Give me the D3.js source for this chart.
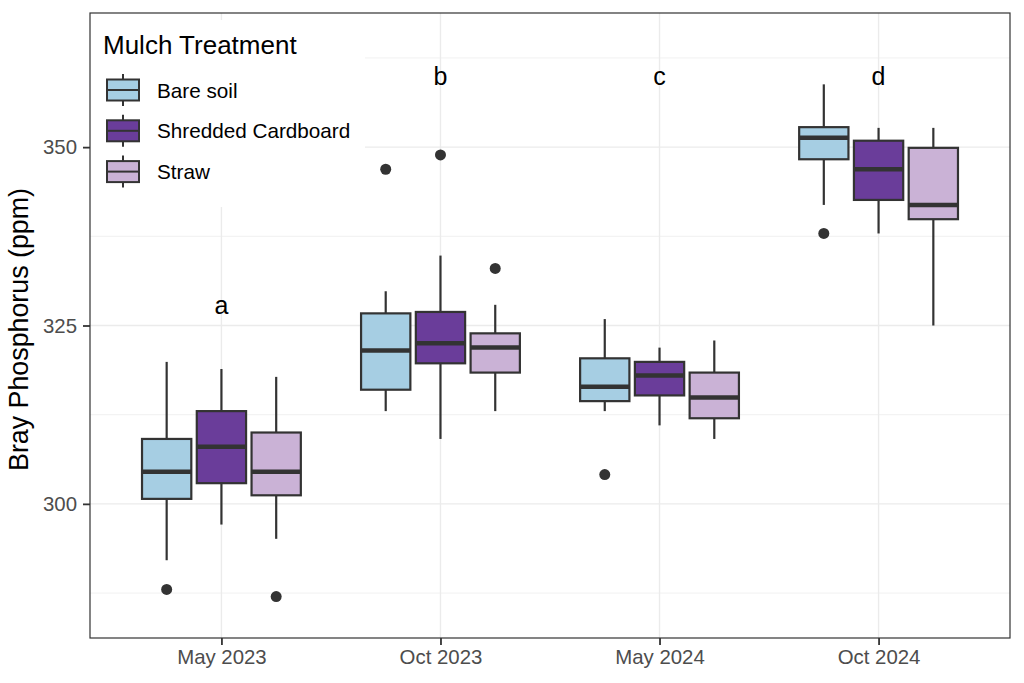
<!DOCTYPE html>
<html>
<head>
<meta charset="utf-8">
<script src="https://cdn.jsdelivr.net/npm/d3@7"></script>
<style>
  body { margin: 0; background: #fff; }
  text { font-family: "Liberation Sans", Arial, sans-serif; }
</style>
</head>
<body>
<div id="chart"></div>
<script>
// sampling dates and mulch treatments
const periods = ["May 2023", "Oct 2023", "May 2024", "Oct 2024"];
const treatments = ["Bare soil", "Shredded Cardboard", "Straw"];
const fills = ["#a6cee3", "#6a3d9a", "#cab2d6"];

// [lower whisker, q1, median, q3, upper whisker] per period
const bareSoil  = [[292.1, 300.7, 304.5, 309.1, 319.9], [313.0, 316.0, 321.5, 326.7, 329.8], [313.0, 314.4, 316.4, 320.4, 325.9], [341.9, 348.3, 351.3, 352.8, 358.8]];
const cardboard = [[297.1, 302.9, 308.0, 313.0, 318.9], [309.1, 319.7, 322.5, 326.9, 334.8], [311.0, 315.2, 318.0, 319.9, 321.9], [337.9, 342.6, 346.9, 350.9, 352.7]];
const straw     = [[295.1, 301.2, 304.5, 310.0, 317.8], [313.0, 318.4, 321.9, 323.9, 327.9], [309.1, 312.0, 314.9, 318.4, 322.9], [325.0, 339.9, 341.9, 349.9, 352.7]];

// outliers: [period, treatment, value]
const outliers = [
  ["May 2023", "Bare soil", 288.0],
  ["May 2023", "Straw", 287.0],
  ["Oct 2023", "Bare soil", 346.9],
  ["Oct 2023", "Shredded Cardboard", 348.9],
  ["Oct 2023", "Straw", 333.0],
  ["May 2024", "Bare soil", 304.1],
  ["Oct 2024", "Bare soil", 337.9]
];

// significance letters
const letters = ["a", "b", "c", "d"];
const letterValues = [326.6, 358.7, 358.7, 358.7];

const yTicks = [300, 325, 350];
const yMinor = [287.5, 312.5, 337.5, 362.5];

const width = 1024, height = 683;
const margin = { top: 13, right: 14, bottom: 45, left: 90 };

const seriesByTreatment = { "Bare soil": bareSoil, "Shredded Cardboard": cardboard, "Straw": straw };
const boxes = [];
periods.forEach((p, i) => {
  treatments.forEach((t, j) => {
    const s = seriesByTreatment[t][i];
    boxes.push({ period: p, treatment: t, fill: fills[j], lo: s[0], q1: s[1], med: s[2], q3: s[3], hi: s[4] });
  });
});

const svg = d3.select("#chart")
  .append("svg")
  .attr("width", width)
  .attr("height", height);

const x = d3.scalePoint()
  .domain(periods)
  .range([margin.left, width - margin.right])
  .padding(0.6);

const y = d3.scaleLinear()
  .domain([281.2, 368.8])
  .range([height - margin.bottom, margin.top]);

const dodge = x.step() * 0.75;
const xSub = d3.scaleBand()
  .domain(treatments)
  .range([-dodge / 2, dodge / 2]);
const boxW = xSub.bandwidth() * 0.9;
const colour = d3.scaleOrdinal().domain(treatments).range(fills);

const pLeft = margin.left, pRight = width - margin.right;
const pTop = margin.top, pBottom = height - margin.bottom;

// panel background + grid
svg.append("rect")
  .attr("x", pLeft).attr("y", pTop)
  .attr("width", pRight - pLeft).attr("height", pBottom - pTop)
  .attr("fill", "#fff");

svg.append("g").selectAll("line")
  .data(yMinor)
  .join("line")
  .attr("x1", pLeft).attr("x2", pRight)
  .attr("y1", d => y(d)).attr("y2", d => y(d))
  .attr("stroke", "#ebebeb").attr("stroke-width", 0.7);

svg.append("g").selectAll("line")
  .data(yTicks)
  .join("line")
  .attr("x1", pLeft).attr("x2", pRight)
  .attr("y1", d => y(d)).attr("y2", d => y(d))
  .attr("stroke", "#ebebeb").attr("stroke-width", 1.4);

svg.append("g").selectAll("line")
  .data(periods)
  .join("line")
  .attr("x1", d => x(d)).attr("x2", d => x(d))
  .attr("y1", pTop).attr("y2", pBottom)
  .attr("stroke", "#ebebeb").attr("stroke-width", 1.4);

// boxplots
const g = svg.append("g");
const bx = d => x(d.period) + xSub(d.treatment) + xSub.bandwidth() / 2;

g.selectAll(".whisker")
  .data(boxes)
  .join("line")
  .attr("class", "whisker")
  .attr("x1", bx).attr("x2", bx)
  .attr("y1", d => y(d.lo)).attr("y2", d => y(d.hi))
  .attr("stroke", "#333").attr("stroke-width", 2.2);

g.selectAll(".box")
  .data(boxes)
  .join("rect")
  .attr("class", "box")
  .attr("x", d => bx(d) - boxW / 2)
  .attr("width", boxW)
  .attr("y", d => y(d.q3))
  .attr("height", d => y(d.q1) - y(d.q3))
  .attr("fill", d => d.fill)
  .attr("stroke", "#333").attr("stroke-width", 2.2);

g.selectAll(".median")
  .data(boxes)
  .join("line")
  .attr("class", "median")
  .attr("x1", d => bx(d) - boxW / 2).attr("x2", d => bx(d) + boxW / 2)
  .attr("y1", d => y(d.med)).attr("y2", d => y(d.med))
  .attr("stroke", "#333").attr("stroke-width", 4.5);

g.selectAll(".outlier")
  .data(outliers)
  .join("circle")
  .attr("class", "outlier")
  .attr("cx", d => x(d[0]) + xSub(d[1]) + xSub.bandwidth() / 2)
  .attr("cy", d => y(d[2]))
  .attr("r", 5.5)
  .attr("fill", "#333");

g.selectAll(".letter")
  .data(letters)
  .join("text")
  .attr("class", "letter")
  .attr("x", (d, i) => x(periods[i]))
  .attr("y", (d, i) => y(letterValues[i]))
  .attr("text-anchor", "middle")
  .style("font-size", "25px")
  .attr("fill", "#000")
  .text(d => d);

// legend (inside panel, white background)
const legend = svg.append("g");
legend.append("rect")
  .attr("x", pLeft).attr("y", 20)
  .attr("width", 275).attr("height", 187)
  .attr("fill", "#fff");
legend.append("text")
  .attr("x", 103).attr("y", 54)
  .style("font-size", "26px")
  .text("Mulch Treatment");

const keys = legend.selectAll(".key")
  .data(treatments)
  .join("g")
  .attr("class", "key")
  .attr("transform", (d, i) => `translate(107, ${90 + i * 40.8})`);
keys.append("line")
  .attr("x1", 16).attr("x2", 16).attr("y1", -16).attr("y2", 16)
  .attr("stroke", "#333").attr("stroke-width", 2);
keys.append("rect")
  .attr("x", 0).attr("y", -10.5).attr("width", 32).attr("height", 21)
  .attr("fill", d => colour(d))
  .attr("stroke", "#333").attr("stroke-width", 2);
keys.append("line")
  .attr("x1", 0).attr("x2", 32).attr("y1", 0).attr("y2", 0)
  .attr("stroke", "#333").attr("stroke-width", 2);
keys.append("text")
  .attr("x", 50).attr("y", 7.5)
  .style("font-size", "20.7px")
  .attr("fill", "#000")
  .text(d => d);

// panel border
svg.append("rect")
  .attr("x", pLeft).attr("y", pTop)
  .attr("width", pRight - pLeft).attr("height", pBottom - pTop)
  .attr("fill", "none")
  .attr("stroke", "#333").attr("stroke-width", 1.2);

// axes
const yAxis = svg.append("g")
  .attr("transform", `translate(${pLeft},0)`)
  .call(d3.axisLeft(y).tickValues(yTicks).tickSize(7).tickPadding(6));
const xAxis = svg.append("g")
  .attr("transform", `translate(0,${pBottom})`)
  .call(d3.axisBottom(x).tickSize(7).tickPadding(5));

[yAxis, xAxis].forEach(a => {
  a.select(".domain").remove();
  a.selectAll(".tick line").attr("stroke", "#333").attr("stroke-width", 1.8);
  a.selectAll(".tick text")
    .attr("fill", "#4d4d4d")
    .style("font-size", "20.4px")
    .style("font-family", "'Liberation Sans', Arial, sans-serif");
});

svg.append("text")
  .attr("transform", `translate(28, ${(pTop + pBottom) / 2 + 4}) rotate(-90)`)
  .attr("text-anchor", "middle")
  .style("font-size", "26.8px")
  .text("Bray Phosphorus (ppm)");
</script>
</body>
</html>
